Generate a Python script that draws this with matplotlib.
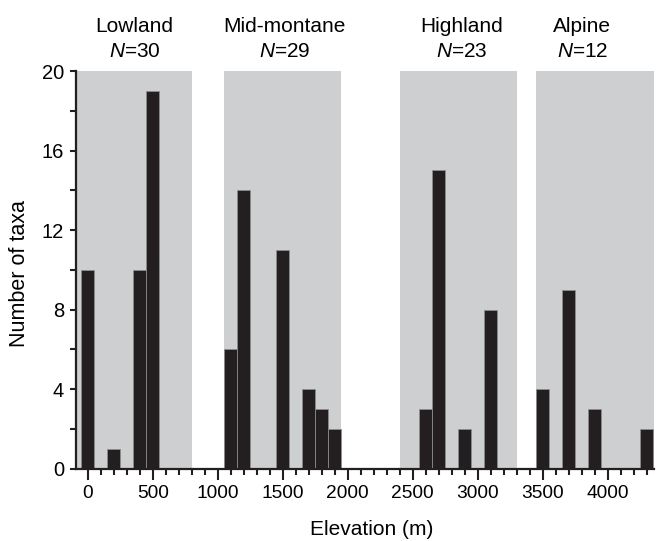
import matplotlib
matplotlib.use("Agg")
import matplotlib.pyplot as plt
from matplotlib.ticker import MultipleLocator

plt.rcParams['font.family'] = ['Liberation Sans', 'DejaVu Sans']
plt.rcParams['mathtext.fontset'] = 'custom'
plt.rcParams['mathtext.it'] = 'Liberation Sans:italic'
plt.rcParams['mathtext.rm'] = 'Liberation Sans'

# taxa counts per 100 m elevation bin (bin centres)
elev = [0, 200, 400, 500, 1100, 1200, 1500, 1700, 1800, 1900,
        2600, 2700, 2900, 3100, 3500, 3700, 3900, 4300]
counts = [10, 1, 10, 19, 6, 14, 11, 4, 3, 2,
          3, 15, 2, 8, 4, 9, 3, 2]

# elevation zones
zones = ["Lowland", "Mid-montane", "Highland", "Alpine"]
zone_n = [30, 29, 23, 12]
zone_lo = [-90, 1050, 2400, 3450]
zone_hi = [800, 1950, 3300, 4360]
zone_lab_x = [360, 1515, 2880, 3805]

fig = plt.figure(figsize=(6.61, 5.41), dpi=100)
ax = fig.add_axes([0.115, 0.1336, 0.875, 0.735])

for lo, hi in zip(zone_lo, zone_hi):
    ax.axvspan(lo, hi, color='#cdcfd1', lw=0, zorder=0)

ax.bar(elev, counts, width=100, color='#231f20', edgecolor='#8c8c8c',
       linewidth=0.6, zorder=2)

for name, n, x in zip(zones, zone_n, zone_lab_x):
    ax.text(x, 21.98, name, ha='center', va='baseline', fontsize=15, clip_on=False)
    ax.text(x, 20.72, '$N$=%d' % n, ha='center', va='baseline', fontsize=15, clip_on=False)

ax.set_xlim(-90, 4360)
ax.set_ylim(0, 20)

ax.spines['top'].set_visible(False)
ax.spines['right'].set_visible(False)
for s in ['left', 'bottom']:
    ax.spines[s].set_linewidth(1.6)
    ax.spines[s].set_color('#231f20')
    ax.spines[s].set_zorder(3)

ax.xaxis.set_major_locator(MultipleLocator(500))
ax.xaxis.set_minor_locator(MultipleLocator(100))
ax.yaxis.set_major_locator(MultipleLocator(4))
ax.yaxis.set_minor_locator(MultipleLocator(2))

ax.tick_params(axis='x', which='major', length=8, width=1.5, pad=4, labelsize=13.8, color='#231f20')
ax.tick_params(axis='x', which='minor', length=4, width=1.5, color='#231f20')
ax.tick_params(axis='y', which='major', length=4.5, width=1.5, pad=4, labelsize=14.5, color='#231f20')
ax.tick_params(axis='y', which='minor', length=4.5, width=1.5, color='#231f20')

ax.set_xlabel('Elevation (m)', fontsize=15)
ax.set_ylabel('Number of taxa', fontsize=15.5)
ax.xaxis.set_label_coords(0.512, -0.154)
ax.yaxis.set_label_coords(-0.097, 0.49)
ax.xaxis.label.set_va('center')
ax.yaxis.label.set_va('center')

fig.savefig('out.png', dpi=100)
